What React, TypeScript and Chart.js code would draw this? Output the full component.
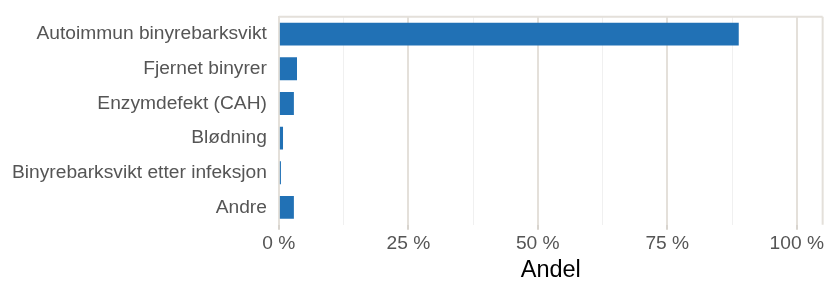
import React, { useEffect, useRef } from "react";
import { Chart, registerables } from "chart.js";

Chart.register(...registerables);

const categories = [
  "Autoimmun binyrebarksvikt",
  "Fjernet binyrer",
  "Enzymdefekt (CAH)",
  "Blødning",
  "Binyrebarksvikt etter infeksjon",
  "Andre",
];
const values = [88.8, 3.5, 2.9, 0.8, 0.4, 2.9];
const xMax = 105;
const xStep = 12.5;
const axisTitle = "Andel";

const borderPlugin = {
  id: "plotBorder",
  beforeDatasetsDraw(chart: any) {
    const { ctx, chartArea } = chart;
    ctx.save();
    ctx.strokeStyle = "#e4e0da";
    ctx.lineWidth = 2;
    ctx.beginPath();
    ctx.moveTo(chartArea.left, chartArea.top);
    ctx.lineTo(chartArea.right, chartArea.top);
    ctx.moveTo(chartArea.right, chartArea.top);
    ctx.lineTo(chartArea.right, chartArea.bottom);
    ctx.stroke();
    ctx.restore();
  },
};

export default function App() {
  const ref = useRef<HTMLCanvasElement>(null);
  useEffect(() => {
    document.body.style.margin = "0";
    const font = "Arial, 'Liberation Sans', sans-serif";
    const isMajor = (v: number) => Math.abs(v % 25) < 1e-9;
    const chart = new Chart(ref.current!, {
      type: "bar",
      data: {
        labels: categories,
        datasets: [
          {
            data: values,
            backgroundColor: "#2171b5",
            barPercentage: 0.66,
            categoryPercentage: 1,
          },
        ],
      },
      plugins: [borderPlugin],
      options: {
        indexAxis: "y",
        animation: false,
        responsive: false,
        layout: { padding: { top: 15, right: 1, left: 0, bottom: 0 } },
        plugins: { legend: { display: false }, tooltip: { enabled: false } },
        scales: {
          x: {
            min: 0,
            max: xMax,
            border: { display: false },
            ticks: {
              stepSize: xStep,
              includeBounds: false,
              autoSkip: false,
              maxRotation: 0,
              color: "#555555",
              font: { family: font, size: 19.2 },
              padding: 2,
              callback: (v: any) => (isMajor(Number(v)) ? `${v} %` : ""),
            },
            grid: {
              color: (c: any) => {
                const v = c.tick ? c.tick.value : 0;
                return isMajor(v) ? "#e4e0da" : "#f0f0f0";
              },
              lineWidth: (c: any) => {
                const v = c.tick ? c.tick.value : 0;
                return isMajor(v) ? 2 : 1;
              },
              tickColor: (c: any) => {
                const v = c.tick ? c.tick.value : 0;
                return isMajor(v) ? "#d8d4ce" : "rgba(0,0,0,0)";
              },
              tickLength: 5,
            },
            title: {
              display: true,
              text: axisTitle,
              color: "#000000",
              font: { family: font, size: 23.5 },
              padding: { top: 0, bottom: 0 },
            },
          },
          y: {
            border: { display: true, color: "#e4e0da", width: 2 },
            grid: { display: false, drawTicks: false },
            ticks: {
              color: "#555555",
              font: { family: font, size: 19.2, lineHeight: 0.5 },
              padding: 12,
            },
          },
        },
      },
    });
    return () => chart.destroy();
  }, []);
  return (
    <div style={{ width: 826, height: 285 }}>
      <canvas ref={ref} width={826} height={285} style={{ display: "block" }} />
    </div>
  );
}
